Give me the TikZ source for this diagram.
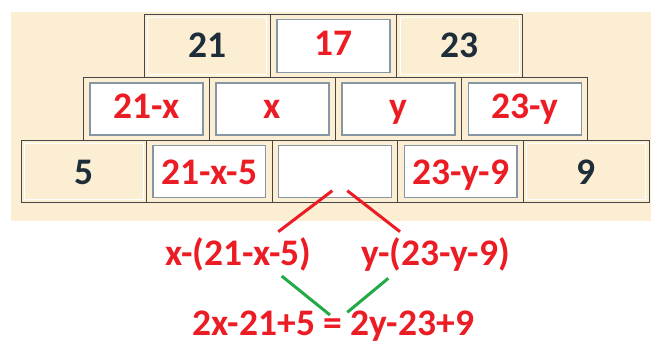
\documentclass[tikz,border=0pt]{standalone}
\usepackage{fontspec}
\setmainfont{Carlito}
\definecolor{beige}{RGB}{252,238,210}
\definecolor{cellborder}{RGB}{70,70,70}
\definecolor{boxborder}{RGB}{135,150,165}
\definecolor{darktxt}{RGB}{30,45,58}
\definecolor{redtxt}{RGB}{236,28,36}
\definecolor{greenln}{RGB}{34,170,70}
\tikzset{
  cell/.style={draw=cellborder, line width=1pt, fill=beige, minimum width=126.1pt, minimum height=62.5pt, inner sep=0pt, outer sep=0pt},
  hilite/.style={draw=white, line width=0.9pt, minimum width=119pt, minimum height=55.5pt, inner sep=0pt},
  whitebox/.style={draw=boxborder, line width=1.3pt, fill=white, minimum width=113pt, minimum height=52pt, inner sep=0pt},
  txt/.style={anchor=base, inner sep=0pt, font=\fontsize{37.5}{40}\selectfont\bfseries},
  dark/.style={txt, text=darktxt},
  red/.style={txt, text=redtxt},
  redln/.style={draw=redtxt, line width=3pt},
  greenln/.style={draw=greenln, line width=3pt}
}
\begin{document}
\begin{tikzpicture}[x=1pt,y=-1pt]
\useasboundingbox (0,0) rectangle (651,345);
\fill[beige] (10.5,12.5) rectangle (651,220.5);
% row 1
\node[cell, minimum height=63.4pt] (c11) at (207.4,46) {};
\node[cell, minimum height=63.4pt] (c12) at (333.5,46) {};
\node[cell, minimum height=63.4pt] (c13) at (459.6,46) {};
\node[hilite, minimum height=56.4pt] (h11) at (c11) {};
\node[hilite, minimum height=56.4pt] (h13) at (c13) {};
\node[whitebox, minimum height=53pt] (w12) at (c12) {};
\node[dark] (t11) at (207.4,57.5) {21};
\node[red] (t12) at (333.5,56) {17};
\node[dark] (t13) at (459.6,57.5) {23};
% row 2
\node[cell] (c21) at (146.4,109) {};
\node[cell] (c22) at (272.5,109) {};
\node[cell] (c23) at (398.6,109) {};
\node[cell] (c24) at (524.7,109) {};
\node[whitebox] (w21) at (c21) {};
\node[whitebox] (w22) at (c22) {};
\node[whitebox] (w23) at (c23) {};
\node[whitebox] (w24) at (c24) {};
\node[red] (t21) at (146.4,118) {21-x};
\node[red] (t22) at (272.5,118) {x};
\node[red] (t23) at (398.6,118) {y};
\node[red] (t24) at (524.7,118) {23-y};
% row 3
\node[cell, minimum width=125.6pt] (c31) at (83.8,171.4) {};
\node[cell, minimum width=125.6pt] (c32) at (209.4,171.4) {};
\node[cell, minimum width=125.6pt] (c33) at (335,171.4) {};
\node[cell, minimum width=125.6pt] (c34) at (460.6,171.4) {};
\node[cell, minimum width=125.6pt] (c35) at (586.2,171.4) {};
\node[hilite, minimum width=118.6pt] (h31) at (c31) {};
\node[hilite, minimum width=118.6pt] (h35) at (c35) {};
\node[whitebox, minimum width=112.6pt] (w32) at (c32) {};
\node[whitebox, minimum width=112.6pt] (w33) at (c33) {};
\node[whitebox, minimum width=112.6pt] (w34) at (c34) {};
\node[dark] (t31) at (83.8,184.5) {5};
\node[red] (t32) at (209.4,184) {21-x-5};
\node[red] (t34) at (460.6,184) {23-y-9};
\node[dark] (t35) at (586.2,184.5) {9};
% lower expressions
\node[red] (ex) at (238.5,265) {x-(21-x-5)};
\node[red] (ey) at (435.5,265) {y-(23-y-9)};
\node[red] (eq) at (333.4,335.5) {2x-21+5 = 2y-23+9};
% connectors
\coordinate (ra1) at (332.3,190.7);
\coordinate (ra2) at (278.3,231.7);
\coordinate (rb1) at (347.3,190.7);
\coordinate (rb2) at (400,231.7);
\coordinate (ga1) at (281.7,276);
\coordinate (ga2) at (330,315);
\coordinate (gb1) at (388.3,278.3);
\coordinate (gb2) at (347.3,312.3);
\draw[redln] (ra1) -- (ra2);
\draw[redln] (rb1) -- (rb2);
\draw[greenln] (ga1) -- (ga2);
\draw[greenln] (gb1) -- (gb2);
\end{tikzpicture}
\end{document}
